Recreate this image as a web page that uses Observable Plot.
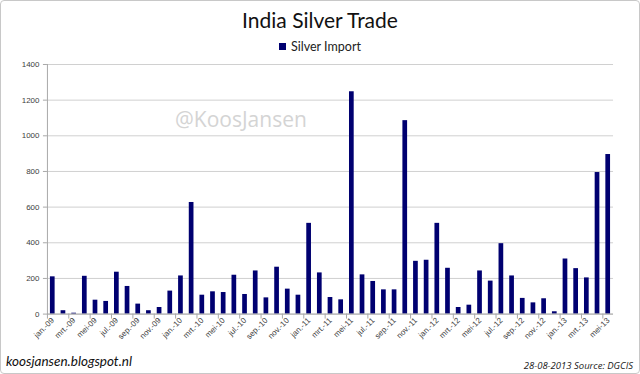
<!DOCTYPE html>
<html>
<head>
<meta charset="utf-8">
<script src="https://cdn.jsdelivr.net/npm/d3@7"></script>
<script src="https://cdn.jsdelivr.net/npm/@observablehq/plot@0.6"></script>
<style>
  html, body { margin: 0; padding: 0; background: #fff; overflow: hidden; }
  #wrap { position: relative; width: 638px; height: 372px; border: 1px solid #c8c8c8; border-radius: 4px; background: #fff; overflow: hidden; }
  #title { position: absolute; left: 0; top: 6px; width: 100%; text-align: center; font-family: Lato, sans-serif; font-size: 21px; color: #111; line-height: 26px; }
  #legend { position: absolute; left: 0; top: 38px; width: 100%; text-align: center; font-family: Lato, sans-serif; font-size: 12.5px; color: #222; line-height: 16px; }
  #legend .sw { display: inline-block; width: 7px; height: 7px; background: #000070; margin-right: 5px; vertical-align: 1px; }
  #chart { position: absolute; left: -1px; top: 55px; }
  #wm { position: absolute; left: 174px; top: 104px; font-family: "Open Sans", sans-serif; font-size: 21px; color: #d4d4d4; }
  #src { position: absolute; left: 5px; top: 352px; font-family: Lato, sans-serif; font-style: italic; font-size: 13.5px; color: #111; }
  #date { position: absolute; right: 6px; top: 358px; font-family: "Open Sans", sans-serif; font-style: italic; font-size: 9.5px; color: #222; }
</style>
</head>
<body>
<div id="wrap">
  <div id="title">India Silver Trade</div>
  <div id="legend"><span class="sw"></span>Silver Import</div>
  <div id="chart"></div>
  <div id="wm">@KoosJansen</div>
  <div id="src">koosjansen.blogspot.nl</div>
  <div id="date">28-08-2013 Source: DGCIS</div>
</div>
<script>
const months = [
  "jan.-09","feb.-09","mrt.-09","apr.-09","mei-09","jun.-09","jul.-09","aug.-09","sep.-09","okt.-09","nov.-09","dec.-09",
  "jan.-10","feb.-10","mrt.-10","apr.-10","mei-10","jun.-10","jul.-10","aug.-10","sep.-10","okt.-10","nov.-10","dec.-10",
  "jan.-11","feb.-11","mrt.-11","apr.-11","mei-11","jun.-11","jul.-11","aug.-11","sep.-11","okt.-11","nov.-11","dec.-11",
  "jan.-12","feb.-12","mrt.-12","apr.-12","mei-12","jun.-12","jul.-12","aug.-12","sep.-12","okt.-12","nov.-12","dec.-12",
  "jan.-13","feb.-13","mrt.-13","apr.-13","mei-13"
];
const silverImport = [
  209, 19, 5, 212, 78, 71, 235, 155, 56, 19, 37, 129,
  214, 626, 106, 125, 121, 218, 110, 242, 91, 263, 140, 106,
  509, 231, 93, 80, 1247, 220, 183, 136, 136, 1085, 296, 302,
  509, 257, 37, 50, 242, 185, 395, 214, 88, 63, 86, 13,
  309, 255, 203, 794, 895
];
const yTicks = [0, 200, 400, 600, 800, 1000, 1200, 1400];
const labelMonths = months.filter((m, i) => i % 2 === 0);

const data = months.map((m, i) => ({month: m, value: silverImport[i]}));

const width = 640, height = 300;
const mL = 47, mR = 26;
const step = (width - mL - mR) / months.length;

const chart = Plot.plot({
  width, height,
  marginLeft: mL, marginRight: mR, marginTop: 8, marginBottom: 42,
  style: {fontFamily: "Liberation Sans, Arial, sans-serif", fontSize: "8px", color: "#404040", background: "transparent", overflow: "visible"},
  x: {domain: months, paddingInner: 0.56, paddingOuter: 0.28},
  y: {domain: [0, 1400]},
  marks: [
    Plot.gridY(yTicks, {stroke: "#d0d0d0", strokeOpacity: 1}),
    Plot.barY(data, {x: "month", y: "value", fill: "#000070"}),
    Plot.frame({anchor: "left", stroke: "#a8a8a8"}),
    Plot.ruleY([0], {stroke: "#a8a8a8"}),
    Plot.axisY(yTicks, {tickSize: 4, tickPadding: 4, stroke: "#a8a8a8", label: null, fill: "#404040", tickFormat: d => String(d)}),
    Plot.axisX(labelMonths, {tickSize: 5, tickFormat: () => "", dx: -step / 2, stroke: "#a8a8a8", label: null}),
    Plot.axisX(labelMonths, {tickSize: 0, tickRotate: -45, tickPadding: 5, label: null, fill: "#404040"})
  ]
});
document.getElementById("chart").appendChild(chart);
</script>
</body>
</html>
